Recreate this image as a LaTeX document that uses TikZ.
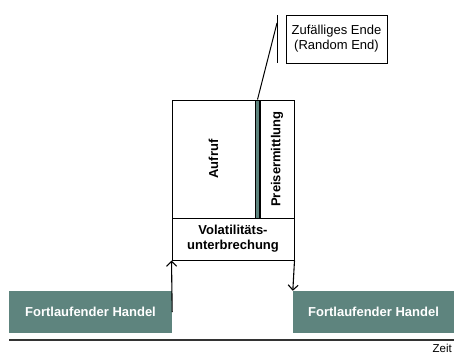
\documentclass[tikz,border=0pt]{standalone}
\usepackage{fontspec}
\setmainfont{Liberation Sans}
\usetikzlibrary{arrows.meta}
\definecolor{trgreen}{RGB}{94,132,126}
\begin{document}
\begin{tikzpicture}[x=1pt,y=-1pt,
  box/.style={draw=black,line width=1pt,inner sep=0pt,align=center},
  lbl/.style={font=\bfseries\fontsize{13}{15}\selectfont},
  trade/.style={fill=trgreen,inner sep=0pt,text=white,font=\bfseries\fontsize{13}{15}\selectfont,minimum height=42pt},
  arr/.style={line width=1.1pt,-{Straight Barb[length=5pt,width=10pt,line width=1.1pt]}},
  ln/.style={line width=1pt}]
\useasboundingbox (0,0) rectangle (454,354);
\node[box,lbl,minimum width=83pt,minimum height=118pt] (aufruf) at (213.5,159) {\rotatebox{90}{Aufruf}};
\node[box,fill=trgreen,minimum width=4pt,minimum height=118pt] (bar) at (257.5,159) {};
\node[box,lbl,minimum width=34pt,minimum height=118pt] (preis) at (277,159) {\rotatebox{90}{Preisermittlung}};
\node[box,lbl,minimum width=122pt,minimum height=42pt] (vola) at (233,239) {Volatilitäts-\\unterbrechung};
\node[trade,minimum width=163pt] (lt) at (90.5,312) {Fortlaufender Handel};
\node[trade,minimum width=161pt] (rt) at (373.5,312) {Fortlaufender Handel};
\node[box,font=\fontsize{13}{15}\selectfont,minimum width=101pt,minimum height=48pt] (rand) at (336.5,39) {Zufälliges Ende\\(Random End)};
\coordinate (vt) at (277,15);
\coordinate (vb) at (277,63);
\coordinate (vm) at (277,23);
\draw[ln] (vt) -- (vb);
\draw[ln] (bar.north) -- (vm);
\draw[arr] (lt.east) -- (vola.south west);
\draw[arr] (vola.south east) -- (rt.north west);
\coordinate (a0) at (9,340);
\coordinate (a1) at (454,340);
\draw[line width=1.2pt,black!80] (a0) -- (a1);
\node[anchor=north east,inner sep=0pt,font=\fontsize{11.5}{13}\selectfont] (zeit) at (452,344) {Zeit};
\end{tikzpicture}
\end{document}
